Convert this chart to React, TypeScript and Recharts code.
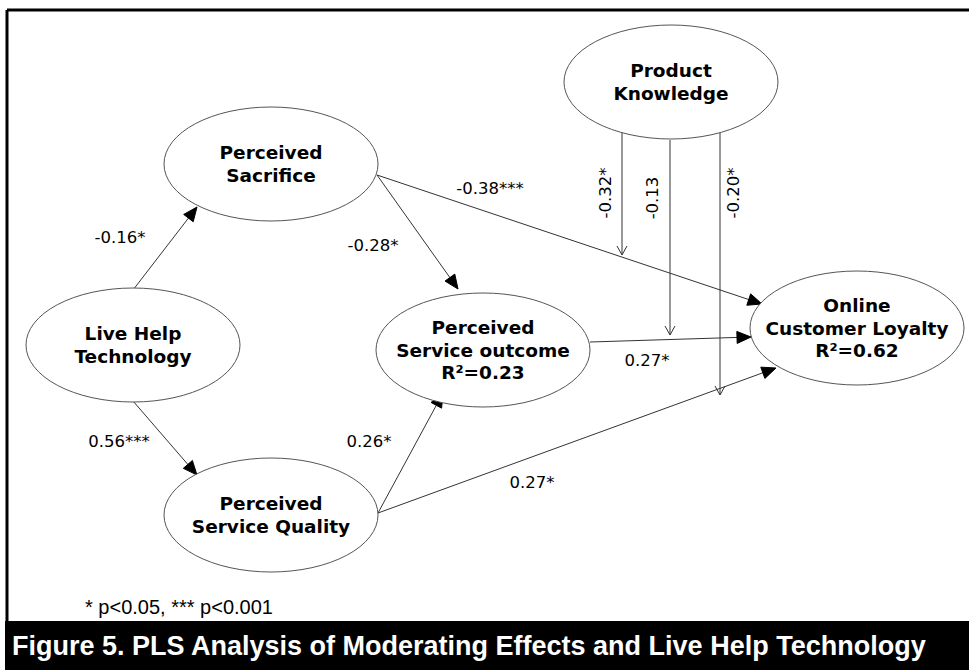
import React from 'react';
import { ReferenceArea, ReferenceLine, Scatter, ScatterChart, XAxis, YAxis } from 'recharts';

const W = 969;
const H = 670;

// latent constructs, centres in diagram units
const nodeLines = [
  ['Product', 'Knowledge'],
  ['Perceived', 'Sacrifice'],
  ['Live Help', 'Technology'],
  ['Perceived', 'Service outcome', 'R²=0.23'],
  ['Online', 'Customer Loyalty', 'R²=0.62'],
  ['Perceived', 'Service Quality'],
];
const nodeX = [671, 271, 133, 483, 857, 271];
const nodeY = [82, 164, 345, 350, 328, 515];

// structural paths: start / end points and coefficients
const pathFrom = [[133, 290], [133, 401], [377, 175], [377, 175], [378, 513], [378, 513], [590, 342]];
const pathTo = [[197, 207], [197, 475], [458, 289], [762, 304], [443, 393], [776, 368], [751, 337]];
const pathCoef = ['-0.16*', '0.56***', '-0.28*', '-0.38***', '0.26*', '0.27*', '0.27*'];
const coefX = [120, 119, 373, 490, 369, 532, 647];
const coefY = [237, 441, 245, 188, 441, 482, 360];

// moderating effects of product knowledge
const modX = [622, 670, 720];
const modTop = [133, 140, 133];
const modEnd = [255, 335, 395];
const modCoef = ['-0.32*', '-0.13', '-0.20*'];
const modLabelX = [605, 652, 733];
const modLabelY = [193, 198, 193];

const footnote = '* p<0.05, *** p<0.001';
const caption = 'Figure 5. PLS Analysis of Moderating Effects and Live Help Technology';

const nodes = nodeLines.map((lines, i) => ({ x: nodeX[i], y: nodeY[i], lines }));
const coefs = [
  ...pathCoef.map((t, i) => ({ x: coefX[i], y: coefY[i], text: t, rotate: 0 })),
  ...modCoef.map((t, i) => ({ x: modLabelX[i], y: modLabelY[i], text: t, rotate: -90 })),
];

const LINE = '#333';
const FONT = '"DejaVu Sans", Verdana, sans-serif';
const ARIAL = '"Liberation Sans", Arial, sans-serif';

const Arrow = (props: any, open: boolean) => {
  const { x1, y1, x2, y2 } = props;
  const dx = x2 - x1;
  const dy = y2 - y1;
  const len = Math.hypot(dx, dy) || 1;
  const ux = dx / len;
  const uy = dy / len;
  const L = open ? 9 : 14;
  const hw = open ? 5 : 6;
  const bx = x2 - ux * L;
  const by = y2 - uy * L;
  const p1 = `${bx - uy * hw},${by + ux * hw}`;
  const p2 = `${bx + uy * hw},${by - ux * hw}`;
  if (open) {
    return (
      <g>
        <line x1={x1} y1={y1} x2={x2} y2={y2} stroke={LINE} strokeWidth={1} />
        <polyline points={`${p1} ${x2},${y2} ${p2}`} fill="none" stroke={LINE} strokeWidth={1} />
      </g>
    );
  }
  return (
    <g>
      <line x1={x1} y1={y1} x2={bx} y2={by} stroke={LINE} strokeWidth={1} />
      <polygon points={`${p1} ${x2},${y2} ${p2}`} fill="#000" stroke="#000" strokeWidth={1} />
    </g>
  );
};

const NodeShape = (props: any) => {
  const { cx, cy, payload } = props;
  const lines: string[] = payload.lines;
  const gap = 22.5;
  const start = cy - ((lines.length - 1) * gap) / 2;
  return (
    <g>
      <ellipse cx={cx} cy={cy} rx={107} ry={57} fill="#fff" stroke="#555" strokeWidth={1} />
      {lines.map((l, i) => (
        <text
          key={i}
          x={cx}
          y={start + i * gap}
          textAnchor="middle"
          dominantBaseline="central"
          fontFamily={FONT}
          fontWeight="bold"
          fontSize={18.5}
          fill="#000"
        >
          {l}
        </text>
      ))}
    </g>
  );
};

const CoefShape = (props: any) => {
  const { cx, cy, payload } = props;
  return (
    <text
      x={cx}
      y={cy}
      textAnchor="middle"
      dominantBaseline="central"
      fontFamily={FONT}
      fontSize={16.5}
      fill="#000"
      transform={payload.rotate ? `rotate(${payload.rotate}, ${cx}, ${cy})` : undefined}
    >
      {payload.text}
    </text>
  );
};

export default function App() {
  return (
    <div style={{ position: 'absolute', left: 0, top: 0, background: '#fff' }}>
      <ScatterChart width={W} height={H} margin={{ top: 0, right: 0, bottom: 0, left: 0 }}>
        <XAxis type="number" dataKey="x" domain={[0, W]} hide allowDataOverflow />
        <YAxis type="number" dataKey="y" domain={[0, H]} reversed hide allowDataOverflow />

        {/* frame */}
        <ReferenceLine segment={[{ x: 7, y: 10 }, { x: W, y: 10 }]} stroke="#000" strokeWidth={3} />
        <ReferenceLine segment={[{ x: 7, y: 10 }, { x: 7, y: 622 }]} stroke="#000" strokeWidth={3} />
        <ReferenceArea
          x1={5}
          x2={W}
          y1={621}
          y2={H}
          fill="#000"
          fillOpacity={1}
          stroke="none"
          label={{
            value: caption,
            position: 'insideLeft',
            offset: 7,
            fill: '#fff',
            fontSize: 27,
            fontWeight: 'bold',
            fontFamily: ARIAL,
          }}
        />

        {pathFrom.map((f, i) => (
          <ReferenceLine
            key={`p${i}`}
            segment={[{ x: f[0], y: f[1] }, { x: pathTo[i][0], y: pathTo[i][1] }]}
            shape={(p: any) => Arrow(p, false)}
          />
        ))}
        {modX.map((x, i) => (
          <ReferenceLine
            key={`m${i}`}
            segment={[{ x, y: modTop[i] }, { x, y: modEnd[i] }]}
            shape={(p: any) => Arrow(p, true)}
          />
        ))}

        <Scatter data={nodes} shape={NodeShape} isAnimationActive={false} />
        <Scatter data={coefs} shape={CoefShape} isAnimationActive={false} />
        <Scatter
          data={[{ x: 85, y: 607 }]}
          isAnimationActive={false}
          shape={(p: any) => (
            <text x={p.cx} y={p.cy} dominantBaseline="central" fontFamily={ARIAL} fontSize={20} fill="#000">
              {footnote}
            </text>
          )}
        />
      </ScatterChart>
    </div>
  );
}
